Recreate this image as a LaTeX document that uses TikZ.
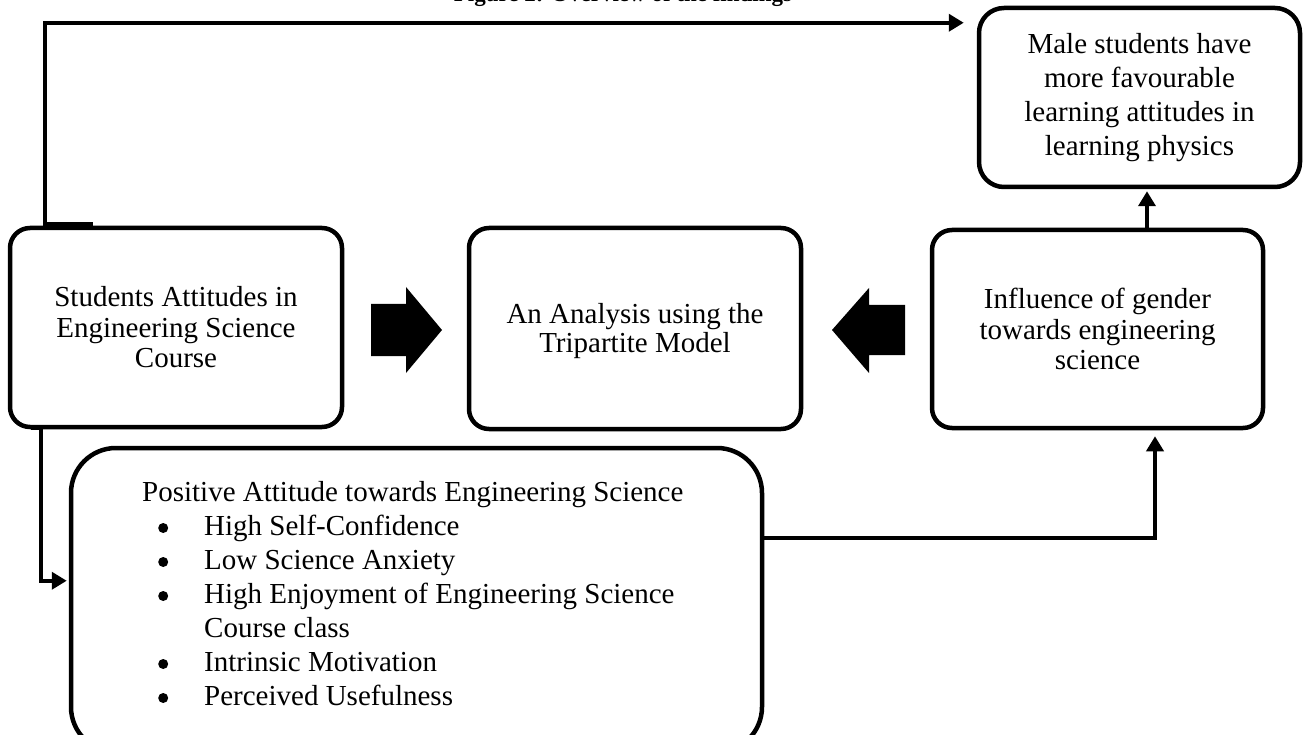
\documentclass[tikz,border=0pt]{standalone}
\usepackage{fontspec}
\setmainfont{Liberation Serif}
\usetikzlibrary{arrows.meta,calc}
\newcommand\bdot{\tikz[baseline=-7pt]\fill[black] (0,0) circle[radius=5pt];}
\newcommand\bitem[1]{\makebox[62pt][l]{\hspace{16pt}\bdot}#1}
\begin{document}
\begin{tikzpicture}[x=1pt,y=-1pt,
  box/.style={draw=black, line width=4.5pt, rounded corners=20pt, inner sep=0pt, align=center,
    font=\fontsize{29}{30.5}\selectfont},
  conn/.style={draw=black, line width=4pt, -{Triangle[length=15pt,width=17pt]}},
  blockarrow/.style={fill=black}]
\clip (0,0) rectangle (1312,735);
\fill[white] (0,0) rectangle (1312,735);

\node[font=\bfseries\fontsize{23}{27}\selectfont, anchor=base, inner sep=0pt] (title) at (623,2) {Figure 2: Overview of the findings};

\node[box, minimum width=332pt, minimum height=199pt] (stud) at (176,327.5) {Students Attitudes in\\Engineering Science\\Course};
\node[box, minimum width=332pt, minimum height=201pt, font=\fontsize{29}{29}\selectfont] (anal) at (635,328.5) {\raisebox{-4pt}[\height][\depth]{\begin{tabular}{@{}c@{}}An Analysis using the\\Tripartite Model\end{tabular}}};
\node[box, minimum width=331pt, minimum height=198pt] (infl) at (1097.5,329) {Influence of gender\\towards engineering\\science};
\node[box, rounded corners=25pt, minimum width=321pt, minimum height=179pt, font=\fontsize{29}{34}\selectfont] (male) at (1139.5,97.5) {Male students have\\more favourable\\learning attitudes in\\learning physics};
\node[box, rounded corners=45pt, minimum width=691pt, minimum height=304pt] (pos) at (416.5,600) {};
\node[anchor=base west, inner sep=0pt, font=\fontsize{29}{34}\selectfont] (plist) at (142,501) {\begin{tabular}[t]{@{}l@{}}Positive Attitude towards Engineering Science\\
\bitem{High Self-Confidence}\\
\bitem{Low Science Anxiety}\\
\bitem{High Enjoyment of Engineering Science}\\
\hspace*{62pt}Course class\\
\bitem{Intrinsic Motivation}\\
\bitem{Perceived Usefulness}
\end{tabular}};

% block arrows
\fill[blockarrow] (371,304) -- (406,304) -- (406,287) -- (442,330) -- (406,373) -- (406,356) -- (371,356) -- cycle;
\fill[blockarrow] (905,305) -- (869,305) -- (869,288) -- (832,330) -- (869,373) -- (869,355) -- (905,355) -- cycle;

% connectors
\draw[conn] ([shift={(85,-2)}]stud.north west) -- ([shift={(37,-2)}]stud.north west) |- ([shift={(-13,17)}]male.north west);
\draw[conn] ([shift={(23,-1)}]stud.south west) -- ([shift={(33,-1)}]stud.south west) |- ([shift={(-2,135)}]pos.north west);
\draw[conn] ([shift={(0,92)}]pos.north east) -| ([shift={(57.5,6)}]infl.south);
\draw[conn] ([shift={(49.5,0)}]infl.north) -- ([shift={(7.5,2)}]male.south);
\end{tikzpicture}
\end{document}
